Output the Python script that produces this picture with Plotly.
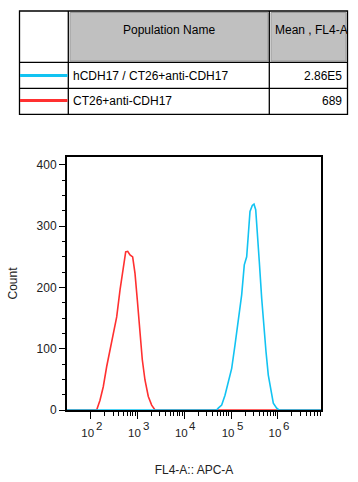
import math
import plotly.graph_objects as go

# ---------------- data ----------------
pop_names = ["hCDH17 / CT26+anti-CDH17", "CT26+anti-CDH17"]
pop_means = ["2.86E5", "689"]
pop_colors = ["#12c3f2", "#ff3030"]
header_names = ["Population Name", "Mean , FL4-A"]

# red: CT26+anti-CDH17  (log10 FL4-A, count)
red_log = [1.494, 2.128, 2.199, 2.269, 2.342, 2.412, 2.483, 2.556, 2.627, 2.697, 2.748,
           2.791, 2.840, 2.897, 2.947, 2.996, 3.053, 3.103, 3.160, 3.231, 3.303, 3.374, 6.921]
red_cnt = [0, 0, 16, 38, 71, 98, 125, 152, 196, 234, 258,
           259, 253, 250, 223, 180, 125, 82, 49, 22, 8, 0, 0]

# cyan: hCDH17 / CT26+anti-CDH17
cyan_log = [1.494, 4.690, 4.726, 4.799, 4.870, 4.940, 5.013, 5.083, 5.154, 5.226, 5.282, 5.333,
            5.368, 5.404, 5.453, 5.489, 5.526, 5.568, 5.603, 5.654, 5.703, 5.746, 5.795,
            5.853, 5.902, 5.974, 6.024, 6.921]
cyan_cnt = [0, 0, 3, 8, 24, 44, 68, 106, 144, 188, 237, 250,
            286, 324, 334, 336, 327, 286, 242, 182, 133, 95, 57,
            30, 11, 3, 0, 0]

x_major = [1e2, 1e3, 1e4, 1e5, 1e6]
x_base = ["10", "10", "10", "10", "10"]
x_exp = ["2", "3", "4", "5", "6"]
x_minor = [m * d for d in [1e2, 1e3, 1e4, 1e5, 1e6] for m in range(2, 10)]
y_major = [0, 100, 200, 300, 400]

FONT = "Liberation Sans, Arial, sans-serif"
TXT = "#222"

fig = go.Figure()
fig.add_trace(go.Scatter(x=[10 ** v for v in red_log], y=red_cnt, mode="lines",
                         line=dict(color=pop_colors[1], width=1.6), hoverinfo="skip"))
fig.add_trace(go.Scatter(x=[10 ** v for v in cyan_log], y=cyan_cnt, mode="lines",
                         line=dict(color=pop_colors[0], width=1.6), hoverinfo="skip"))

L, R, T, B = 67, 321, 157, 410
W, H = R - L, B - T


def fx(px):
    return (px - L) / W


def fy(py):
    return (B - py) / H


shapes = []
# header gray cells
for x0, x1 in [(70, 268), (271, 346)]:
    shapes.append(dict(type="rect", xref="paper", yref="paper", x0=fx(x0), x1=fx(x1),
                       y0=fy(61), y1=fy(12.5), fillcolor="#c0c0c0",
                       line=dict(color="#9a9a9a", width=1), layer="above"))
# outer box
shapes.append(dict(type="rect", xref="paper", yref="paper", x0=fx(19.5), x1=fx(347.5),
                   y0=fy(114.3), y1=fy(11), line=dict(color="black", width=1.3)))
for xv in [68.3, 269.3]:
    shapes.append(dict(type="line", xref="paper", yref="paper", x0=fx(xv), x1=fx(xv),
                       y0=fy(114.3), y1=fy(11), line=dict(color="black", width=1.3)))
for yv in [62.3, 88.3]:
    shapes.append(dict(type="line", xref="paper", yref="paper", x0=fx(19.5), x1=fx(347.5),
                       y0=fy(yv), y1=fy(yv), line=dict(color="black", width=1.3)))
# legend lines
for i, yv in enumerate([75.5, 100.5]):
    shapes.append(dict(type="line", xref="paper", yref="paper", x0=fx(20), x1=fx(67.5),
                       y0=fy(yv), y1=fy(yv), line=dict(color=pop_colors[i], width=3.2)))

ann = []
ann.append(dict(text=header_names[0], x=fx(169), y=fy(30), xref="paper", yref="paper",
                showarrow=False, xanchor="center", yanchor="middle",
                font=dict(family=FONT, size=12, color="black")))
ann.append(dict(text=header_names[1], x=fx(272.5), y=fy(30), xref="paper", yref="paper",
                showarrow=False, xanchor="left", yanchor="middle",
                font=dict(family=FONT, size=12, color="black")))
for i, yv in enumerate([76, 101.5]):
    ann.append(dict(text=pop_names[i], x=fx(70.5), y=fy(yv), xref="paper", yref="paper",
                    showarrow=False, xanchor="left", yanchor="middle",
                    font=dict(family=FONT, size=12, color="black")))
    ann.append(dict(text=pop_means[i], x=fx(344), y=fy(yv), xref="paper", yref="paper",
                    showarrow=False, xanchor="right", yanchor="middle",
                    font=dict(family=FONT, size=12, color="black")))
# exponents of the x tick labels, anchored on the (log) axis scale
for xv, e in zip(x_major, x_exp):
    ann.append(dict(text=e, x=math.log10(xv), xref="x", y=0, yref="paper", showarrow=False,
                    xanchor="center", yanchor="middle", xshift=8.5, yshift=-15.5,
                    font=dict(family=FONT, size=11.5, color=TXT)))

fig.update_layout(
    width=358, height=482,
    margin=dict(l=L, r=358 - R, t=T, b=482 - B, pad=0),
    paper_bgcolor="white", plot_bgcolor="white",
    showlegend=False,
    shapes=shapes, annotations=ann,
    font=dict(family=FONT, size=12, color=TXT),
)
fig.update_xaxes(
    type="log", range=[1.494, 6.921], showgrid=False, zeroline=False,
    showline=True, linecolor="black", linewidth=2, mirror=True,
    tickmode="array", tickvals=x_major, ticktext=x_base,
    ticks="outside", ticklen=7, tickwidth=1.3, tickcolor="black",
    ticklabelshift=-3, ticklabelstandoff=4,
    tickfont=dict(family=FONT, size=11.5, color=TXT),
    minor=dict(tickmode="array", tickvals=x_minor, ticks="outside", ticklen=4,
               tickwidth=1, tickcolor="black", showgrid=False),
    title=dict(text="FL4-A:: APC-A", standoff=28, font=dict(family=FONT, size=12, color=TXT)),
    automargin=False,
)
fig.update_yaxes(
    range=[0, 413], showgrid=False, zeroline=False,
    showline=True, linecolor="black", linewidth=2, mirror=True,
    tickmode="array", tickvals=y_major,
    ticks="outside", ticklen=6, tickwidth=1.3, tickcolor="black",
    tickfont=dict(family=FONT, size=12, color=TXT),
    minor=dict(dtick=25, ticks="outside", ticklen=3, tickwidth=1, tickcolor="black", showgrid=False),
    title=dict(text="Count", standoff=16, font=dict(family=FONT, size=12, color=TXT)),
    automargin=False,
)

fig.write_html("out.html", config={"displayModeBar": False},
               post_script="document.body.style.margin='0';document.body.style.overflow='hidden';")
